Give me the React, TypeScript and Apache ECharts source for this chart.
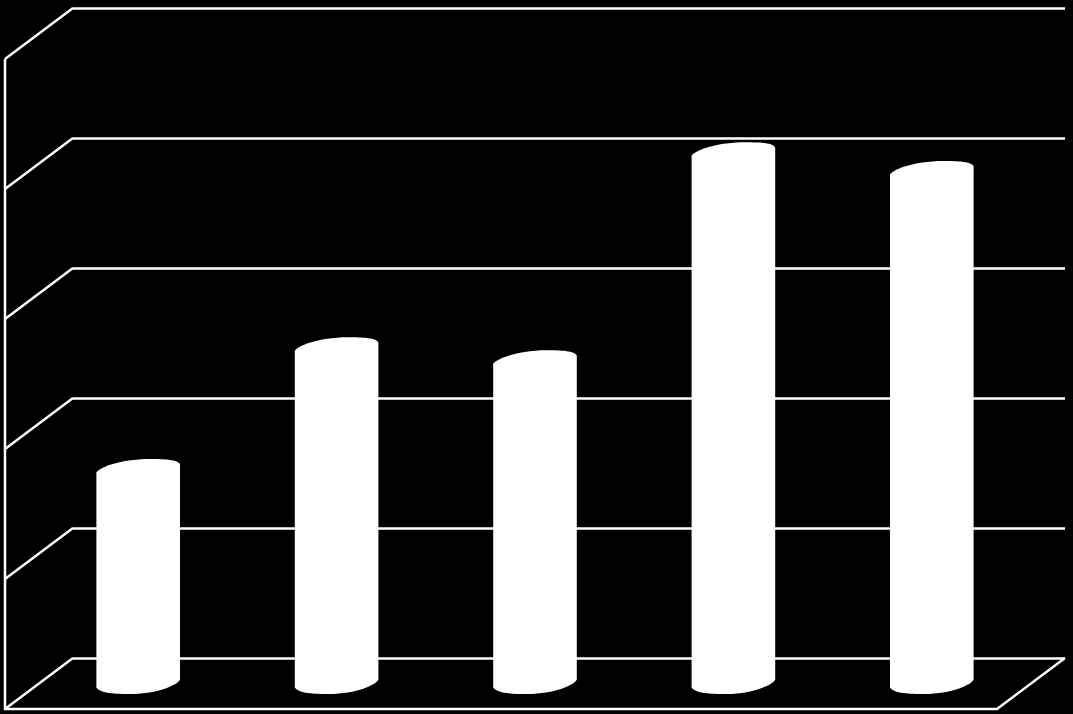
import React, { useEffect, useRef } from "react";
import * as echarts from "echarts";

const categories = ["1", "2", "3", "4", "5"];
const barValues = [1.654, 2.59, 2.49, 4.09, 3.946];
const ticks = [0, 1, 2, 3, 4, 5];

const DEPTH_X = 68;
const DEPTH_Y = 51;
const BAR_HALF = 41.8;
const LINE_W = 2.5;

echarts.graphic.registerShape(
  "cylinder",
  echarts.graphic.extendShape({
    shape: { cx: 0, top: 0, bottom: 0, hw: 0 },
    buildPath(ctx: any, s: any) {
      const { cx, top, bottom, hw } = s;
      ctx.moveTo(cx - hw, top + 4);
      ctx.bezierCurveTo(cx - 40, top, cx - 20, top - 9.5, cx + 12, top - 9.5);
      ctx.bezierCurveTo(cx + 26, top - 9.5, cx + 40, top - 9, cx + hw, top - 4);
      ctx.lineTo(cx + hw, bottom - 4);
      ctx.bezierCurveTo(cx + 40, bottom + 1, cx + 20, bottom + 10.5, cx - 8, bottom + 10.5);
      ctx.bezierCurveTo(cx - 22, bottom + 10.5, cx - 38, bottom + 10, cx - hw, bottom + 4);
      ctx.closePath();
    },
  })
);

const lineStyle = { stroke: "#fff", lineWidth: LINE_W, fill: "none" };

export default function App() {
  const ref = useRef<HTMLDivElement>(null);
  useEffect(() => {
    document.body.style.margin = "0";
    document.body.style.background = "#000";
    document.body.style.overflow = "hidden";
    const chart = echarts.init(ref.current!, null, { renderer: "svg" });
    chart.setOption({
      animation: false,
      backgroundColor: "#000",
      grid: { left: 73, right: 8, top: 8, bottom: 56 },
      xAxis: {
        type: "category",
        data: categories,
        axisLine: { show: false },
        axisTick: { show: false },
        axisLabel: { show: false },
      },
      yAxis: {
        type: "value",
        min: 0,
        max: 5,
        interval: 1,
        axisLine: { show: false },
        axisTick: { show: false },
        axisLabel: { show: false },
        splitLine: { show: true, lineStyle: { color: "#fff", width: LINE_W } },
      },
      series: [
        {
          type: "custom",
          silent: true,
          z: 1,
          data: ticks.map((t) => [0, t]),
          renderItem(params: any, api: any) {
            const x = params.coordSys.x;
            const y = api.coord([0, api.value(1)])[1];
            return {
              type: "line",
              shape: { x1: x, y1: y, x2: x - DEPTH_X, y2: y + DEPTH_Y },
              style: lineStyle,
            };
          },
        },
        {
          type: "custom",
          silent: true,
          z: 1,
          data: [[0, 0]],
          renderItem(params: any, api: any) {
            const { x, y, width, height } = params.coordSys;
            const base = y + height;
            return {
              type: "polyline",
              shape: {
                points: [
                  [x - DEPTH_X, y + DEPTH_Y],
                  [x - DEPTH_X, base + DEPTH_Y],
                  [x + width - DEPTH_X, base + DEPTH_Y],
                  [x + width, base],
                ],
              },
              style: lineStyle,
            };
          },
        },
        {
          type: "custom",
          silent: true,
          z: 3,
          data: barValues.map((v, i) => [i, v]),
          renderItem(_params: any, api: any) {
            const top = api.coord([api.value(0), api.value(1)]);
            const bottom = api.coord([api.value(0), 0]);
            return {
              type: "cylinder",
              shape: {
                cx: top[0] - DEPTH_X / 2,
                top: top[1] + DEPTH_Y / 2,
                bottom: bottom[1] + DEPTH_Y / 2,
                hw: BAR_HALF,
              },
              style: { fill: "#fff", stroke: "none" },
            };
          },
        },
      ],
    });
    return () => chart.dispose();
  }, []);
  return <div ref={ref} style={{ width: 1073, height: 714, background: "#000" }} />;
}
